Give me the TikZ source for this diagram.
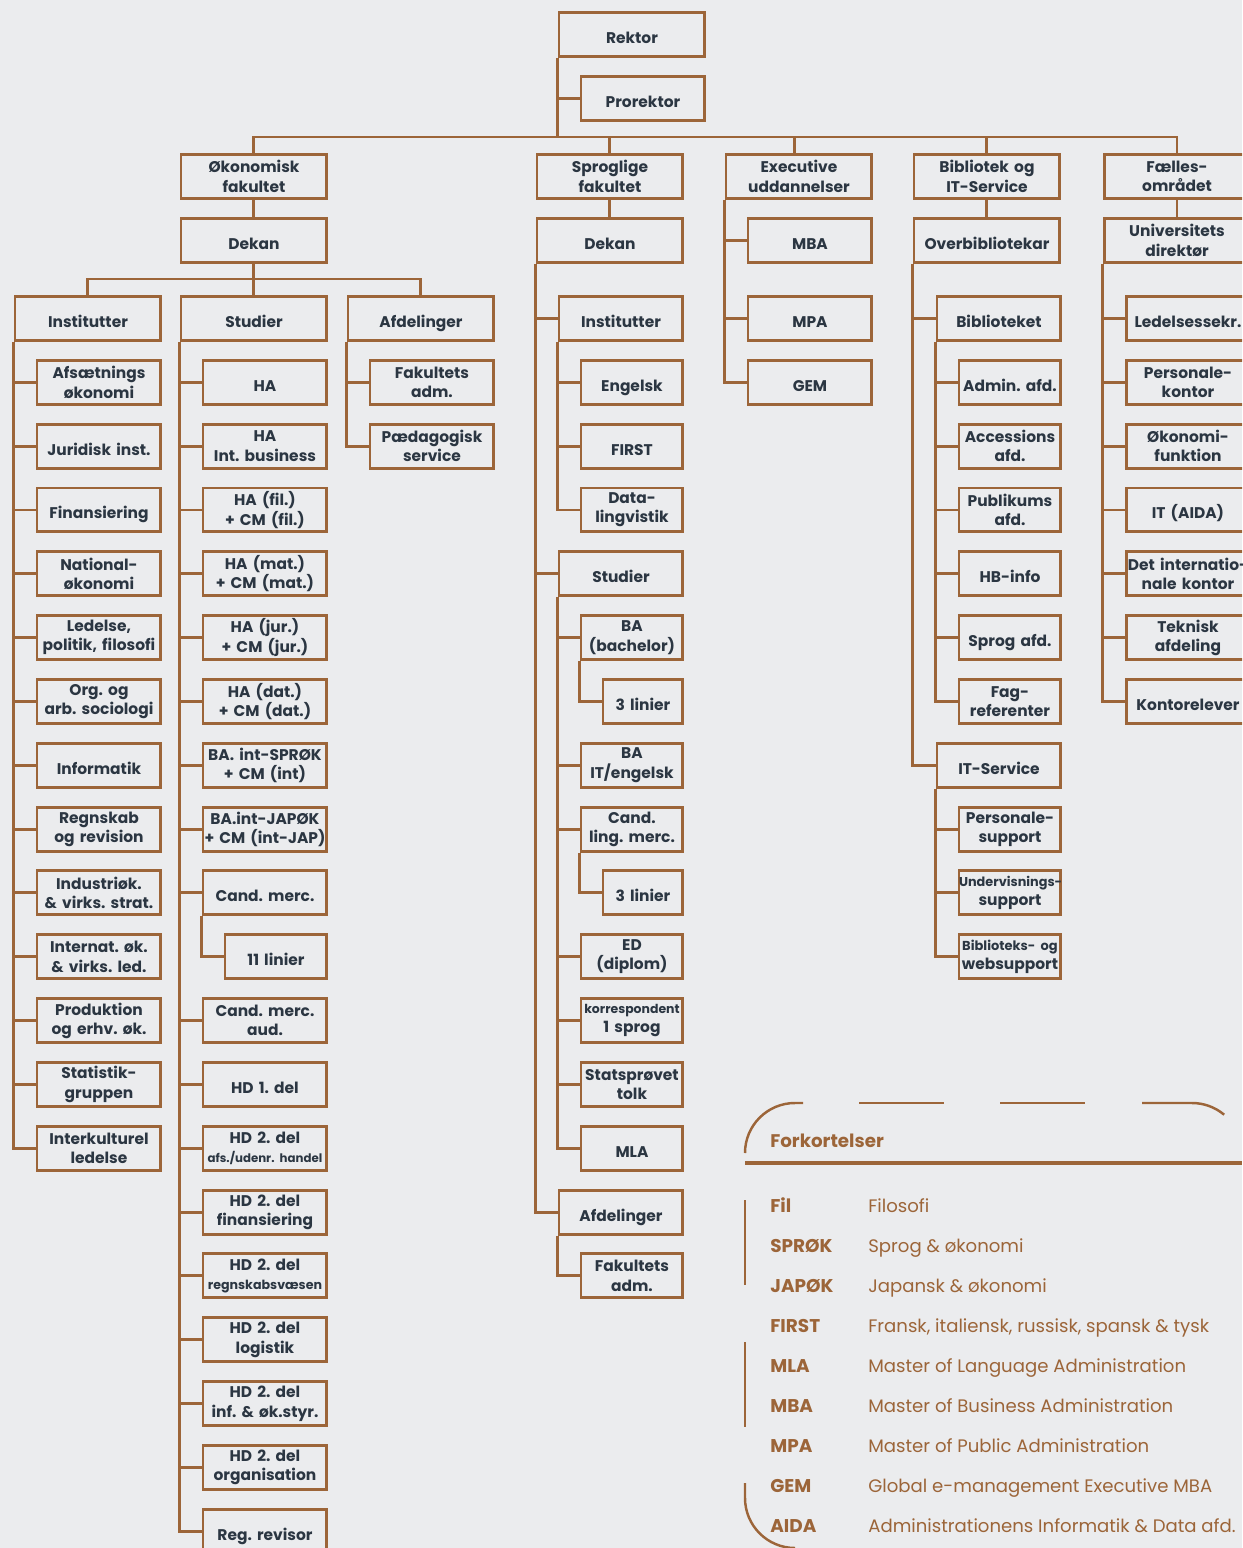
\documentclass[tikz,border=0pt]{standalone}
\usepackage{fontspec}
\setmainfont{Poppins}
\usetikzlibrary{positioning}

\definecolor{paper}{HTML}{EBECEE}
\definecolor{rust}{HTML}{9C6539}
\definecolor{slate}{HTML}{2B3642}

\hyphenpenalty=10000
\exhyphenpenalty=10000
\frenchspacing

\newcommand\orgsmall[2][6.9]{{\fontsize{#1}{8}\selectfont #2}}
\newcommand\rowy[1]{318.5+63.83*#1}

\tikzset{
  org/.style={draw=rust, line width=1.7pt, inner sep=0pt, minimum height=0.88cm,
    align=center, text=slate, font=\bfseries\fontsize{8.8}{11}\selectfont, anchor=west},
  wide/.style={org, minimum width=2.92cm, text width=2.92cm},
  mid/.style={org, minimum width=2.48cm, text width=2.48cm},
  narrow/.style={org, minimum width=2.04cm, text width=2.04cm},
  nano/.style={org, minimum width=1.6cm, text width=1.6cm},
  single/.code={\ifnum#1=1\pgfkeysalso{text height=0.36cm, text depth=0pt}\fi},
  link/.style={draw=rust, line width=1.7pt},
  frame/.style={draw=rust, line width=1.4pt},
  legtitle/.style={anchor=base west, inner sep=0pt, text=rust, font=\bfseries\fontsize{10.4}{12}\selectfont},
  abbr/.style={anchor=base west, inner sep=0pt, text=rust, font=\bfseries\fontsize{10.5}{12}\selectfont},
  expl/.style={anchor=base west, inner sep=0pt, text=rust, font=\fontsize{10.3}{12}\selectfont},
}

\begin{document}
\begin{tikzpicture}[x=0.02cm, y=-0.02cm]
\fill[paper] (0,0) rectangle (1242,1548);
\useasboundingbox (0,0) rectangle (1242,1548);
\clip (0,0) rectangle (1242,1548);

% ledelse
\node[wide, single=1] (rektor) at (557.5,34.5) {Rektor};
\node[mid, single=1] (prorektor) at (579.5,98.5) {Prorektor};
\coordinate (bus) at (557.5,137);
\draw[link] (rektor.south west) -- (bus);
\draw[link] (rektor.south west) |- (prorektor.west);

\node[wide] (oek) at (179.5,176.5) {Økonomisk\\fakultet};
\node[wide] (sprog) at (535.5,176.5) {Sproglige\\fakultet};
\node[wide] (exec) at (724.5,176.5) {Executive\\uddannelser};
\node[wide] (bib) at (912.5,176.5) {Bibliotek og\\IT-Service};
\node[wide] (faelles) at (1102.5,176.5) {Fælles-\\området};
\draw[link] (oek.north) |- (bus) -| (faelles.north);
\draw[link] ([xshift=-0.09cm]exec.north) -- ([xshift=-0.09cm]exec.north |- bus);
\foreach \n in {sprog, bib}
  \draw[link] (\n.north) -- (\n.north |- bus);

% executive
\node[mid, single=1] (mba) at (746.5,240.5) {MBA};
\node[mid, single=1] (mpa) at (746.5,{\rowy{0}}) {MPA};
\node[mid, single=1] (gem) at (746.5,{\rowy{1}}) {GEM};
\foreach \n in {mba, mpa, gem}
  \draw[link] (exec.south west) |- (\n.west);

% oekonomisk fakultet
\node[wide, single=1] (oekdekan) at (179.5,240.5) {Dekan};
\draw[link] (oek.south) -- (oekdekan.north);
\coordinate (oekbus) at (253,279);
\node[wide, single=1] (oekinst) at (13.5,{\rowy{0}}) {Institutter};
\node[wide, single=1] (oekstud) at (179.5,{\rowy{0}}) {Studier};
\node[wide, single=1] (oekafd) at (346.5,{\rowy{0}}) {Afdelinger};
\draw[link] (oekdekan.south) -- (oekstud.north);
\draw[link] (oekinst.north) |- (oekbus) -| (oekafd.north);

\foreach \i/\o/\t in {
  1/0/{Afsætnings\\økonomi},
  2/1/{Juridisk inst.},
  3/1/{Finansiering},
  4/0/{National-\\økonomi},
  5/0/{Ledelse,\\politik, filosofi},
  6/0/{Org. og\\arb. sociologi},
  7/1/{Informatik},
  8/0/{Regnskab\\og revision},
  9/0/{Industriøk.\\\& virks. strat.},
  10/0/{Internat. øk.\\\& virks. led.},
  11/0/{Produktion\\og erhv. øk.},
  12/0/{Statistik-\\gruppen},
  13/0/{Interkulturel\\ledelse}}{
  \node[mid, single=\o] (oi\i) at (35.5,{\rowy{\i}}) {\t};
  \draw[link] (oekinst.south west) |- (oi\i.west);
}

\foreach \i/\o/\t in {
  1/1/{HA},
  2/0/{HA\\Int. business},
  3/0/{HA (fil.)\\+ CM (fil.)},
  4/0/{HA (mat.)\\+ CM (mat.)},
  5/0/{HA (jur.)\\+ CM (jur.)},
  6/0/{HA (dat.)\\+ CM (dat.)},
  7/0/{BA. int-SPRØK\\+ CM (int)},
  8/0/{BA.int-JAPØK\\+ CM (int-JAP)},
  9/1/{Cand. merc.},
  11/0/{Cand. merc.\\aud.},
  12/1/{HD 1. del},
  13/0/{HD 2. del\\\orgsmall[6.7]{afs./udenr. handel}},
  14/0/{HD 2. del\\finansiering},
  15/0/{HD 2. del\\\orgsmall[7.2]{regnskabsvæsen}},
  16/0/{HD 2. del\\logistik},
  17/0/{HD 2. del\\inf. \& øk.styr.},
  18/0/{HD 2. del\\organisation},
  19/1/{Reg. revisor}}{
  \node[mid, single=\o] (os\i) at (201.5,{\rowy{\i}}) {\t};
  \draw[link] (oekstud.south west) |- (os\i.west);
}
\node[narrow, single=1] (os10) at (223.5,{\rowy{10}}) {11 linier};
\draw[link] (os9.south west) |- (os10.west);

\foreach \i/\o/\t in {
  1/0/{Fakultets\\adm.},
  2/0/{Pædagogisk\\service}}{
  \node[mid, single=\o] (oa\i) at (368.5,{\rowy{\i}}) {\t};
  \draw[link] (oekafd.south west) |- (oa\i.west);
}

% sproglige fakultet
\node[wide, single=1] (sprdekan) at (535.5,240.5) {Dekan};
\draw[link] (sprog.south) -- (sprdekan.north);
\node[mid, single=1] (spinst) at (557.5,{\rowy{0}}) {Institutter};
\node[mid, single=1] (spstud) at (557.5,{\rowy{4}}) {Studier};
\node[mid, single=1] (spafd) at (557.5,{\rowy{14}}) {Afdelinger};
\foreach \n in {spinst, spstud, spafd}
  \draw[link] (sprdekan.south west) |- (\n.west);

\foreach \i/\o/\t in {
  1/1/{Engelsk},
  2/1/{FIRST},
  3/0/{Data-\\lingvistik}}{
  \node[narrow, single=\o] (si\i) at (579.5,{\rowy{\i}}) {\t};
  \draw[link] (spinst.south west) |- (si\i.west);
}

\foreach \i/\o/\t in {
  5/0/{BA\\(bachelor)},
  7/0/{BA\\IT/engelsk},
  8/0/{Cand.\\ling. merc.},
  10/0/{ED\\(diplom)},
  11/0/{\orgsmall[7.1]{korrespondent}\\1 sprog},
  12/0/{Statsprøvet\\tolk},
  13/1/{MLA}}{
  \node[narrow, single=\o] (ss\i) at (579.5,{\rowy{\i}}) {\t};
  \draw[link] (spstud.south west) |- (ss\i.west);
}
\node[nano, single=1] (ss6) at (601.5,{\rowy{6}}) {3 linier};
\node[nano, single=1] (ss9) at (601.5,{\rowy{9}}) {3 linier};
\draw[link] (ss5.south west) |- (ss6.west);
\draw[link] (ss8.south west) |- (ss9.west);

\node[narrow] (sa15) at (579.5,{\rowy{15}}) {Fakultets\\adm.};
\draw[link] (spafd.south west) |- (sa15.west);

% bibliotek og it
\node[wide, single=1] (overbib) at (912.5,240.5) {Overbibliotekar};
\draw[link] (bib.south) -- (overbib.north);
\node[mid, single=1] (bibl) at (935.5,{\rowy{0}}) {Biblioteket};
\node[mid, single=1] (itserv) at (935.5,{\rowy{7}}) {IT-Service};
\foreach \n in {bibl, itserv}
  \draw[link] (overbib.south west) |- (\n.west);

\foreach \i/\o/\t in {
  1/1/{Admin. afd.},
  2/0/{Accessions\\afd.},
  3/0/{Publikums\\afd.},
  4/1/{HB-info},
  5/1/{Sprog afd.},
  6/0/{Fag-\\referenter}}{
  \node[narrow, single=\o] (bb\i) at (957.5,{\rowy{\i}}) {\t};
  \draw[link] (bibl.south west) |- (bb\i.west);
}
\foreach \i/\t in {
  8/{Personale-\\support},
  9/{\orgsmall[7.3]{Undervisnings-}\\support},
  10/{\orgsmall[7.4]{Biblioteks- og}\\websupport}}{
  \node[narrow] (bi\i) at (957.5,{\rowy{\i}}) {\t};
  \draw[link] (itserv.south west) |- (bi\i.west);
}

% faellesomraadet
\node[wide] (unidir) at (1102.5,240.5) {Universitets\\direktør};
\draw[link] (faelles.south) -- (unidir.north);
\foreach \i/\o/\t in {
  0/1/{Ledelsessekr.},
  1/0/{Personale-\\kontor},
  2/0/{Økonomi-\\funktion},
  3/1/{IT (AIDA)},
  4/0/{Det internatio-\\nale kontor},
  5/0/{Teknisk\\afdeling},
  6/1/{Kontorelever}}{
  \node[mid, single=\o] (fo\i) at (1124.5,{\rowy{\i}}) {\t};
  \draw[link] (unidir.south west) |- (fo\i.west);
}

% forkortelser
\draw[frame] (745,1153) arc[start angle=180, end angle=270, radius=50] -- (803,1103);
\draw[frame] (859,1103) -- (944,1103);
\draw[frame] (1000,1103) -- (1085,1103);
\draw[frame] (1142,1103) -- (1192,1103) arc[start angle=270, end angle=310, radius=50];
\draw[frame] (745,1200) -- (745,1285);
\draw[frame] (745,1342) -- (745,1427);
\draw[frame] (745,1483) -- (745,1498) arc[start angle=180, end angle=90, radius=50];
\draw[rust, line width=2.3pt] (745,1163) -- (1242,1163);
\node[legtitle] (fork) at (770,1147) {Forkortelser};

\foreach \k/\a/\d in {
  0/Fil/Filosofi,
  1/SPRØK/{Sprog \& økonomi},
  2/JAPØK/{Japansk \& økonomi},
  3/FIRST/{Fransk, italiensk, russisk, spansk \& tysk},
  4/MLA/{Master of Language Administration},
  5/MBA/{Master of Business Administration},
  6/MPA/{Master of Public Administration},
  7/GEM/{Global e-management Executive MBA},
  8/AIDA/{Administrationens Informatik \& Data afd.}}{
  \node[abbr] (ab\k) at (770,{1212.7+40*\k}) {\a};
  \node[expl] (ex\k) at (868,{1212.7+40*\k}) {\d};
}
\end{tikzpicture}
\end{document}
